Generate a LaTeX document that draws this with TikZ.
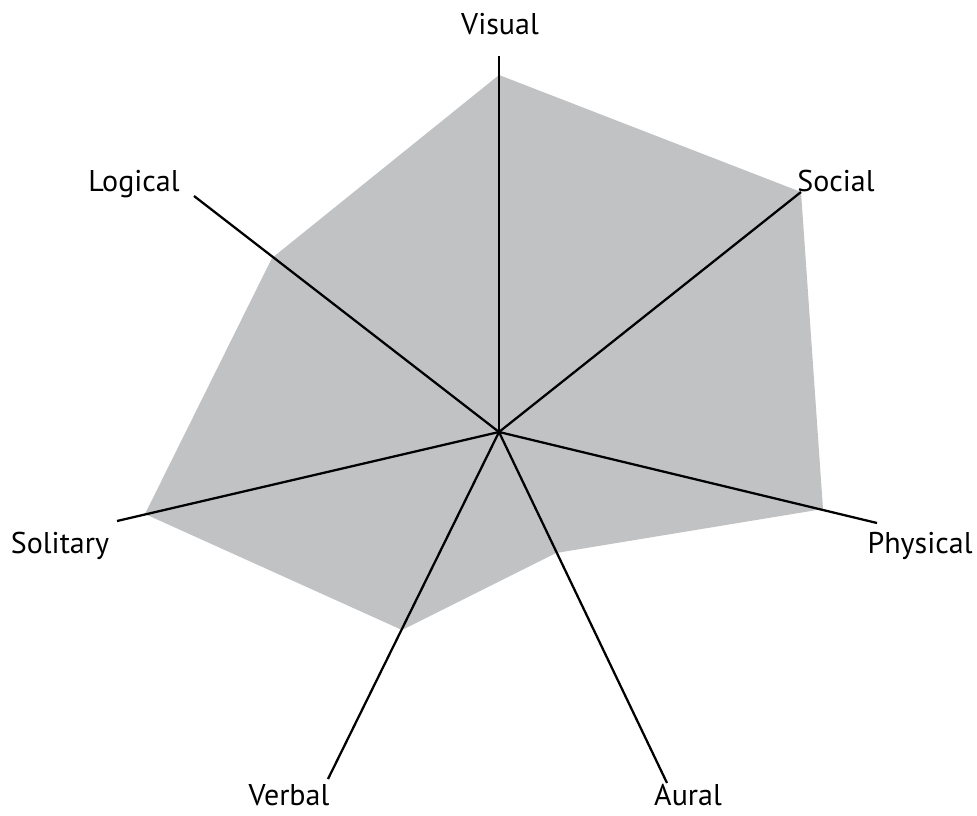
\documentclass[tikz,border=0pt]{standalone}
\usepackage{fontspec}
\setmainfont{PT Sans}
\definecolor{areagray}{RGB}{193,194,196}
\tikzset{every picture/.style={line width=1.7pt}}
\tikzset{axislabel/.style={font=\fontsize{22.5}{27}\selectfont, inner sep=0pt, anchor=base}}

\begin{document}
\begin{tikzpicture}[x=0.75pt,y=0.75pt,yscale=-1,xscale=1]
\useasboundingbox (0,0) rectangle (977,816);

%Centre and axis ends
\coordinate (ctr) at (499,432);
\coordinate (visend) at (499,56);
\coordinate (socend) at (801,192);
\coordinate (phyend) at (877,523);
\coordinate (aurend) at (667,783);
\coordinate (verend) at (328,779);
\coordinate (solend) at (117,521);
\coordinate (logend) at (194,196);

%Shape: Polygon [score area]
\fill [areagray] (499,75) -- (801,192) -- (823,509) -- (556,553) -- (402,630) -- (145,514) -- (272,258) -- cycle ;

%Straight Lines [axes]
\draw (ctr) -- (visend) ;
\draw (ctr) -- (socend) ;
\draw (ctr) -- (phyend) ;
\draw (ctr) -- (aurend) ;
\draw (ctr) -- (verend) ;
\draw (ctr) -- (solend) ;
\draw (ctr) -- (logend) ;

% Text Node
\node [axislabel] (vis) at (500,35) {Visual};
% Text Node
\node [axislabel] (soc) at (836,192) {Social};
% Text Node
\node [axislabel] (phy) at (920,553) {Physical};
% Text Node
\node [axislabel] (aur) at (688,805) {Aural};
% Text Node
\node [axislabel] (ver) at (289,805) {Verbal};
% Text Node
\node [axislabel] (sol) at (60,553) {Solitary};
% Text Node
\node [axislabel] (log) at (134,192) {Logical};

\end{tikzpicture}
\end{document}
